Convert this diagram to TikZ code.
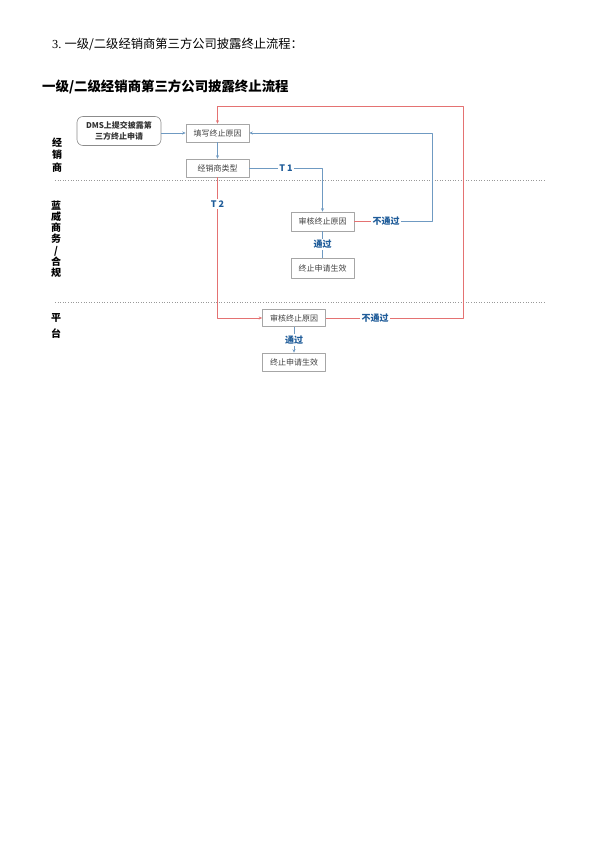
\documentclass[tikz,border=0pt]{standalone}
\usepackage{fontspec}
\setmainfont{Liberation Serif}
\newfontfamily\cjk{Noto Sans CJK SC}
\usetikzlibrary{calc,arrows.meta}
\definecolor{flowblue}{HTML}{6F9AC2}
\definecolor{labelblue}{HTML}{1F5C99}
\definecolor{flowred}{HTML}{E47272}
\definecolor{boxgray}{HTML}{A6A6A6}

\begin{document}
\begin{tikzpicture}[x=1pt, y=-1pt, line join=round,
  box/.style={draw=boxgray, line width=0.6pt, minimum width=63pt, minimum height=18pt,
    inner sep=1pt, text=black!75, font=\cjk\fontsize{8}{9}\selectfont},
  lane/.style={align=center, font=\cjk\bfseries\fontsize{10}{12.5}\selectfont},
  lbl/.style={fill=white, inner sep=1.5pt, text=labelblue, font=\cjk\bfseries\fontsize{9}{10}\selectfont},
  blueline/.style={draw=flowblue, line width=0.8pt},
  redline/.style={draw=flowred, line width=0.8pt},
  tip/.style={-{Stealth[length=3.5pt,width=3pt]}},
  lanesep/.style={draw=black!40, dotted, line width=0.6pt}]
  \useasboundingbox (0,0) rectangle (595,842);

  % Heading and title
  \node[anchor=west, inner sep=0pt, font=\fontsize{12.3}{14}\selectfont] (heading) at (52,44)
    {3.\ \cjk 一级/二级经销商第三方公司披露终止流程：};
  \node[anchor=west, inner sep=0pt, font=\cjk\bfseries\fontsize{13.4}{15}\selectfont] (title) at (42,87)
    {一级/二级经销商第三方公司披露终止流程};

  % Lanes (dotted separators)
  \draw[lanesep] (55,180) -- (545,180);
  \draw[lanesep] (55,302) -- (545,302);
  \node[lane] (laneA) at (57,155) {经\\销\\商};
  \node[lane, font=\cjk\bfseries\fontsize{10}{11.2}\selectfont] (laneB) at (56,239) {蓝\\威\\商\\务\\/\\合\\规};
  \node[lane, font=\cjk\bfseries\fontsize{10}{15.5}\selectfont] (laneC) at (56,326) {平\\台};

  % Boxes
  \node[box, rounded corners=6pt, draw=black!45, minimum width=84pt, minimum height=29pt,
    align=center, text=black!80, font=\cjk\bfseries\fontsize{8}{11.5}\selectfont] (dms) at (119,131)
    {DMS上提交披露第\\三方终止申请};
  \node[box] (fill) at (217.5,133) {填写终止原因};
  \node[box] (dtype) at (217.5,168) {经销商类型};
  \node[box, minimum height=19pt] (rev1) at (322.5,221.5) {审核终止原因};
  \node[box, minimum height=20pt] (done1) at (322.5,268) {终止申请生效};
  \node[box, minimum height=17pt] (rev2) at (294,318) {审核终止原因};
  \node[box] (done2) at (294,362) {终止申请生效};

  % Connectors inside the dealer lane
  \draw[blueline, tip] (dms.east |- fill) -- (fill.west);
  \draw[blueline, tip] (fill) -- (dtype);

  % T1 branch to the compliance review
  \draw[blueline, tip] (dtype.east) -- node[lbl] (t1) {T 1} (dtype.east -| rev1.north) -- (rev1.north);
  \draw[blueline] (rev1.south) -- node[lbl] (pass1) {通过} (done1.north);
  \node[lbl] (nopass1) at (386,221.5) {不通过};
  \draw[redline] (rev1.east) -- (nopass1.west);
  \coordinate (backB) at (432,133);
  \draw[blueline, tip] (nopass1.east) -| (backB) -- (fill.east);

  % T2 branch to the platform review
  \draw[redline, tip] (dtype.south) -- node[lbl, pos=0.19] (t2) {T 2} (dtype.south |- rev2.west) -- (rev2.west);
  \draw[blueline, tip] (rev2.south) -- node[lbl] (pass2) {通过} (done2.north);
  \coordinate (backR) at (463,106);
  \draw[redline, tip] (rev2.east) -- node[lbl, pos=0.36] (nopass2) {不通过} (rev2.east -| backR)
    -- (backR) -| (fill.north);
\end{tikzpicture}
\end{document}
